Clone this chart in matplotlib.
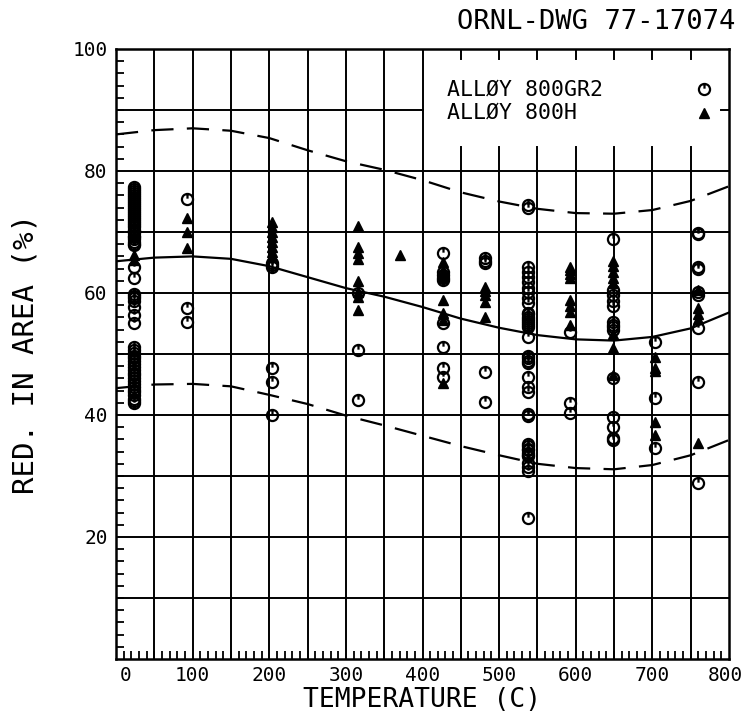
import matplotlib

matplotlib.use("Agg")

import matplotlib.pyplot as plt
from matplotlib.path import Path
from matplotlib.transforms import ScaledTranslation

plt.rcParams["font.family"] = ["DejaVu Sans Mono", "DejaVu Sans"]

# test temperatures (C)
temps = [24, 93, 204, 316, 371, 427, 482, 538, 593, 649, 704, 760]

# reduction in area (%), alloy 800 grade 2, one list per temperature
gr2_ra = [
    [77.4, 77.1, 76.8, 76.4, 76.1, 75.8, 75.4, 75.1, 74.8, 74.4, 74.1, 73.8,
     73.4, 73.1, 72.8, 72.4, 72.1, 71.8, 71.4, 71.1, 70.8, 70.4, 70.1, 69.8,
     69.4, 69.1, 68.8, 68.4, 68.1, 67.8, 64.3, 62.4, 59.9, 59.5, 59.1, 58.7,
     57.7, 56.4, 55.1, 51.1, 50.7, 50.2, 49.7, 49.3, 48.8, 48.3, 47.9, 47.4,
     46.9, 46.5, 46.0, 45.5, 45.1, 44.6, 44.1, 43.7, 43.2, 42.7, 42.3, 42.0],
    [75.4, 57.6, 55.2],
    [64.9, 64.6, 64.3, 47.7, 45.4, 40.0],
    [60.0, 50.7, 42.5],
    [],
    [66.5, 63.4, 63.0, 62.5, 62.2, 55.0, 51.2, 47.7, 46.2],
    [65.7, 65.2, 64.9, 47.0, 42.1],
    [74.5, 74.0, 64.3, 63.5, 62.6, 61.8, 60.9, 60.2, 59.2, 58.4, 56.8, 56.5,
     56.1, 55.8, 55.4, 55.1, 54.7, 54.4, 52.8, 49.6, 49.3, 48.9, 48.6, 46.2,
     44.6, 43.8, 40.2, 39.9, 35.2, 34.9, 34.5, 34.2, 33.8, 33.5, 33.2, 32.1,
     31.4, 30.8, 23.1],
    [53.6, 42.0, 40.3],
    [68.8, 60.5, 59.6, 58.7, 57.8, 55.2, 54.8, 54.4, 53.9, 46.1, 39.7, 38.0,
     36.2, 35.9],
    [52.0, 42.8, 34.6],
    [69.9, 69.6, 64.2, 63.9, 60.2, 59.7, 54.3, 45.4, 28.9],
]

# reduction in area (%), alloy 800H
h_ra = [
    [66.2, 65.4],
    [72.3, 70.0, 67.4],
    [71.6, 70.8, 70.0, 69.2, 68.4, 67.6, 66.8, 66.0],
    [71.0, 67.5, 66.6, 65.6, 62.0, 60.2, 59.4, 57.2],
    [66.2],
    [65.0, 63.8, 62.6, 58.8, 56.7, 55.6, 45.2],
    [61.0, 60.3, 59.6, 58.6, 56.0],
    [],
    [64.3, 63.7, 63.1, 62.5, 58.8, 57.8, 56.9, 54.8],
    [65.2, 64.4, 63.4, 62.4, 61.6, 53.3, 51.0, 46.6],
    [49.5, 47.7, 47.2, 38.9, 36.7],
    [60.5, 57.6, 56.6, 55.8, 35.4],
]

# trend curve and scatter band
curve_t = [0, 50, 100, 150, 200, 250, 300, 350, 400, 450, 500, 550, 600, 650, 700, 750, 800]
curve_mid = [65.2, 65.8, 66.0, 65.6, 64.4, 62.6, 60.8, 59.4, 57.7, 55.8, 54.3, 53.1,
             52.4, 52.2, 52.8, 54.2, 56.8]
curve_hi = [86.0, 86.7, 87.0, 86.6, 85.4, 83.4, 81.6, 80.2, 78.5, 76.5, 75.0, 73.8,
            73.1, 73.0, 73.6, 75.1, 77.5]
curve_lo = [44.4, 45.0, 45.1, 44.7, 43.3, 41.8, 39.9, 38.3, 36.6, 34.9, 33.4, 32.0,
            31.3, 31.1, 31.8, 33.4, 35.9]

x_grid = list(range(50, 800, 50))
y_grid = list(range(10, 100, 10))

# circle with a short stroke, like the plotter symbol
circ_tick = Path.make_compound_path(
    Path.unit_circle(),
    Path([(0.0, 0.15), (0.0, 1.0)], [Path.MOVETO, Path.LINETO]),
)

fig = plt.figure(figsize=(7.46, 7.12), dpi=100)
ax = fig.add_axes([116 / 746, 1 - 659 / 712, 613 / 746, 610 / 712])

# grid, left open behind the legend block
gw = 1.4
for y in y_grid:
    if y == 90:
        ax.plot([0, 400], [y, y], color="black", lw=gw, zorder=1)
        ax.plot([790, 800], [y, y], color="black", lw=gw, zorder=1)
    else:
        ax.plot([0, 800], [y, y], color="black", lw=gw, zorder=1)
for x in x_grid:
    if x > 400:
        ax.plot([x, x], [0, 84], color="black", lw=gw, zorder=1)
        ax.plot([x, x], [98.3, 100], color="black", lw=gw, zorder=1)
    else:
        ax.plot([x, x], [0, 100], color="black", lw=gw, zorder=1)

ax.plot(curve_t, curve_mid, color="black", lw=1.6, zorder=2)
ax.plot(curve_t, curve_hi, color="black", lw=1.6, dashes=(10, 6), zorder=2)
ax.plot(curve_t, curve_lo, color="black", lw=1.6, dashes=(10, 6), zorder=2)

for t, vals in zip(temps, gr2_ra):
    ax.plot([t] * len(vals), vals, linestyle="none", marker=circ_tick,
            markersize=8, markerfacecolor="none", markeredgecolor="black",
            markeredgewidth=1.6, zorder=3)
for t, vals in zip(temps, h_ra):
    ax.plot([t] * len(vals), vals, linestyle="none", marker="^",
            markersize=7, color="black", zorder=4)

# legend block
ax.text(432, 93.4, "ALLØY 800GR2", fontsize=15.5, ha="left", va="center")
ax.text(432, 89.5, "ALLØY 800H", fontsize=15.5, ha="left", va="center")
ax.plot([767], [93.4], linestyle="none", marker=circ_tick, markersize=8,
        markerfacecolor="none", markeredgecolor="black", markeredgewidth=1.6)
ax.plot([767], [89.5], linestyle="none", marker="^", markersize=7, color="black")

ax.set_xlim(0, 800)
ax.set_ylim(0, 100)
ax.set_xticks(range(0, 801, 100))
ax.set_xticks(range(0, 801, 10), minor=True)
ax.set_yticks(range(0, 101, 20))
ax.set_yticklabels(["", "20", "40", "60", "80", "100"])
ax.set_yticks(range(0, 101, 2), minor=True)
ax.tick_params(which="major", length=0, labelsize=14)
ax.tick_params(axis="x", which="major", pad=5)
ax.tick_params(axis="y", which="major", pad=6)
ax.tick_params(which="minor", direction="in", length=6, width=1.3)
ax.tick_params(axis="x", which="minor", top=False)

labels = ax.get_xticklabels()
labels[0].set_transform(labels[0].get_transform() + ScaledTranslation(0.1, 0, fig.dpi_scale_trans))
labels[-1].set_transform(labels[-1].get_transform() + ScaledTranslation(-0.04, 0, fig.dpi_scale_trans))

for side in ax.spines.values():
    side.set_linewidth(1.8)

fig.text(735 / 746, 1 - 22 / 712, "ORNL-DWG 77-17074", fontsize=19.5, ha="right", va="center")
fig.text(422 / 746, 1 - 700 / 712, "TEMPERATURE (C)", fontsize=19, ha="center", va="center")
fig.text(26 / 746, 1 - 354 / 712, "RED. IN AREA (%)", fontsize=21, rotation=90,
         ha="center", va="center")

fig.savefig("out.png", dpi=100)
plt.close(fig)
